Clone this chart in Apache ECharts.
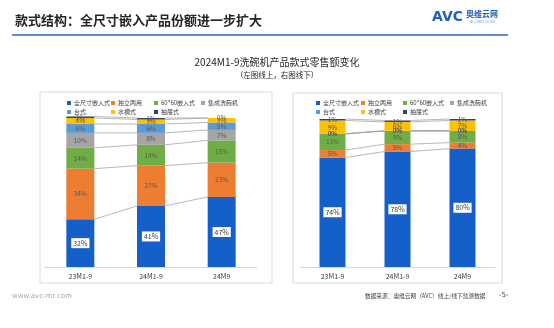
<!DOCTYPE html>
<html><head><meta charset="utf-8">
<script src="https://cdn.jsdelivr.net/npm/echarts@6/dist/echarts.min.js"></script>
<style>html,body{margin:0;padding:0;background:#fff}#c{width:554px;height:328px}</style>
</head><body><div id="c"></div>
<script>
const categories = ['23M1-9', '24M1-9', '24M9'];
const seriesNames = ['全尺寸嵌入式', '独立两用', '60*60嵌入式', '集成洗碗机', '台式', '水槽式', '抽屉式'];
const seriesColors = ['#1560c8', '#ed7d31', '#70ad47', '#a5a5a5', '#5b9bd5', '#ffc000', '#264478'];

// Left chart (online)
const leftFullSize = [32, 41, 47];
const leftStandalone = [34, 27, 23];
const left6060 = [14, 14, 15];
const leftIntegrated = [10, 8, 7];
const leftTabletop = [6, 6, 5];
const leftSink = [4, 3, 3];
const leftDrawer = [1, 1, 0];

// Right chart (offline)
const rightFullSize = [74, 78, 80];
const rightStandalone = [5, 5, 4];
const right6060 = [11, 9, 8];
const rightIntegrated = [0, 0, 0];
const rightTabletop = [0, 0, 0];
const rightSink = [9, 6, 7];
const rightDrawer = [1, 1, 1];

const leftData = [leftFullSize, leftStandalone, left6060, leftIntegrated, leftTabletop, leftSink, leftDrawer];
const rightData = [rightFullSize, rightStandalone, right6060, rightIntegrated, rightTabletop, rightSink, rightDrawer];

const FONT = '"Noto Sans CJK SC", "Noto Sans", sans-serif';

function barSeries(data, idx, barW) {
  return data.map((vals, k) => ({
    type: 'bar', name: seriesNames[k], stack: 's' + idx,
    xAxisIndex: idx, yAxisIndex: idx, barWidth: barW, clip: false,
    itemStyle: { color: seriesColors[k] },
    label: k === 0 ? {
      show: true, position: 'inside', formatter: '{c}%', fontSize: 7, color: '#404040',
      backgroundColor: '#fff', padding: [2, 2, 1, 2], fontFamily: FONT
    } : {
      show: true, position: 'inside', formatter: '{c}%', fontSize: 6.5, color: '#5a5a5a', fontFamily: FONT
    },
    data: vals
  }));
}

function connectorSeries(data, idx, barW) {
  const items = [];
  const cum = [0, 0, 0];
  data.forEach(vals => {
    for (let i = 0; i < 3; i++) cum[i] += vals[i];
    for (let i = 0; i < 2; i++) items.push([i, cum[i], cum[i + 1]]);
  });
  return {
    type: 'custom', xAxisIndex: idx, yAxisIndex: idx, silent: true, z: 1,
    encode: { x: 0, y: 1 },
    renderItem: function (params, api) {
      const p1 = api.coord([api.value(0), api.value(1)]);
      const p2 = api.coord([api.value(0) + 1, api.value(2)]);
      return {
        type: 'line',
        shape: { x1: p1[0] + barW / 2, y1: p1[1], x2: p2[0] - barW / 2, y2: p2[1] },
        style: { stroke: '#9a9a9a', lineWidth: 0.7 }
      };
    },
    data: items
  };
}

function legendCol(names, left, top) {
  return {
    data: names, left: left, top: top, orient: 'vertical', icon: 'rect',
    itemWidth: 4, itemHeight: 4, itemGap: 3, selectedMode: false,
    textStyle: { fontSize: 6, color: '#404040', fontFamily: FONT, padding: [0, 0, 0, -2] }
  };
}

const chart = echarts.init(document.getElementById('c'));
const axisCommon = {
  axisTick: { show: false },
  axisLine: { lineStyle: { color: '#d9d9d9' } },
  axisLabel: { fontSize: 7, color: '#404040', margin: 6, fontFamily: FONT }
};
chart.setOption({
  animation: false,
  textStyle: { fontFamily: FONT },
  title: [
    { text: '款式结构：全尺寸嵌入产品份额进一步扩大', left: 10, top: 9,
      textStyle: { fontSize: 13, fontWeight: 'bold', color: '#262626', fontFamily: FONT } },
    { text: '2024M1-9洗碗机产品款式零售额变化', left: 'center', top: 52,
      textStyle: { fontSize: 10, fontWeight: 'normal', color: '#262626', fontFamily: FONT } },
    { text: '（左图线上，右图线下）', left: 'center', top: 66,
      textStyle: { fontSize: 7.5, fontWeight: 'normal', color: '#262626', fontFamily: FONT } }
  ],
  legend: [
    legendCol(['全尺寸嵌入式', '台式'], 62, 95),
    legendCol(['独立两用', '水槽式'], 106, 95),
    legendCol(['60*60嵌入式', '抽屉式'], 149, 95),
    legendCol(['集成洗碗机'], 196, 95),
    legendCol(['全尺寸嵌入式', '台式'], 311, 95),
    legendCol(['独立两用', '水槽式'], 356, 95),
    legendCol(['60*60嵌入式', '抽屉式'], 398, 95),
    legendCol(['集成洗碗机'], 445, 95)
  ],
  grid: [
    { left: 45, top: 118, width: 212, height: 149 },
    { left: 300, top: 119, width: 195, height: 148 }
  ],
  xAxis: [
    Object.assign({ type: 'category', gridIndex: 0, data: categories }, axisCommon),
    Object.assign({ type: 'category', gridIndex: 1, data: categories }, axisCommon)
  ],
  yAxis: [
    { type: 'value', gridIndex: 0, min: 0, max: 100, show: false },
    { type: 'value', gridIndex: 1, min: 0, max: 100, show: false }
  ],
  series: [].concat(
    barSeries(leftData, 0, 28),
    barSeries(rightData, 1, 26),
    [connectorSeries(leftData, 0, 28), connectorSeries(rightData, 1, 26)]
  ),
  graphic: [
    { type: 'rect', shape: { x: 40, y: 92, width: 232, height: 191 }, style: { fill: 'none', stroke: '#d9d9d9', lineWidth: 1 }, z: -1 },
    { type: 'rect', shape: { x: 293, y: 93, width: 209, height: 190 }, style: { fill: 'none', stroke: '#d9d9d9', lineWidth: 1 }, z: -1 },
    { type: 'line', shape: { x1: 12, y1: 35, x2: 508, y2: 35 }, style: { stroke: '#2c64b4', lineWidth: 1.5 } },
    { type: 'text', left: 432, top: 10, style: { text: 'AVC', fill: '#1f5fc0', font: 'bold 14px "DejaVu Sans", sans-serif' } },
    { type: 'text', left: 466, top: 10, style: { text: '奥维云网', fill: '#1f5fc0', font: 'bold 8px "Noto Sans CJK SC"' } },
    { type: 'text', left: 470, top: 21, style: { text: 'ALL VIEW CLOUD', fill: '#7a9bd0', font: '3px sans-serif' } },
    { type: 'text', left: 12, top: 293, style: { text: 'www.avc-mr.com', fill: '#a6a6a6', font: '7px "DejaVu Sans", sans-serif' } },
    { type: 'text', left: 365, top: 293, style: { text: '数据来源：奥维云网（AVC）线上/线下监测数据', fill: '#404040', font: '5.7px "Noto Sans CJK SC"' } },
    { type: 'text', left: 499, top: 292, style: { text: '-5-', fill: '#404040', font: '7px "DejaVu Sans", sans-serif' } }
  ]
});
</script></body></html>
